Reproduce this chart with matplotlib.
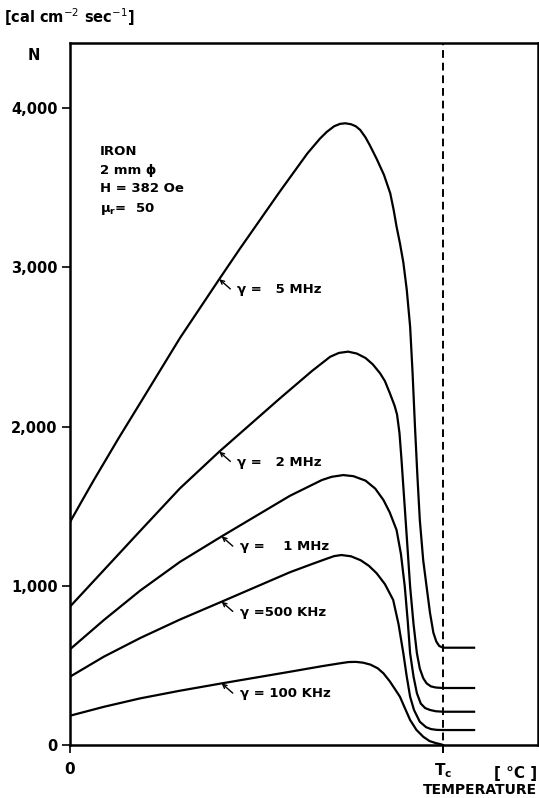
import numpy as np
import matplotlib.pyplot as plt

# temperature axis: 0 .. Tc (iron, ~770 C)
TC = 770

t_5mhz = [0, 25, 50, 100, 145, 227, 308, 351, 433, 490, 516, 530, 545, 557, 568, 580, 590, 599, 610, 619, 633,
          648, 661, 668, 674, 681, 688, 695, 702, 707, 712, 717, 722, 729, 736, 743, 750, 756, 762, 770, 834]
n_5mhz = [1400, 1535, 1668, 1925, 2148, 2556, 2925, 3118, 3475, 3715, 3808, 3850, 3885, 3900, 3904, 3898, 3885, 3862, 3815, 3765, 3680,
          3580, 3464, 3360, 3255, 3150, 3030, 2860, 2627, 2340, 2000, 1690, 1413, 1160, 994, 830, 705, 650, 622, 611, 611]

t_2mhz = [0, 145, 227, 308, 433, 500, 537, 555, 574, 592, 610, 625, 640, 650, 660, 670, 675, 680, 684, 688,
          695, 702, 709, 716, 722, 729, 736, 745, 755, 770, 834]
n_2mhz = [869, 1345, 1612, 1842, 2176, 2350, 2438, 2462, 2470, 2458, 2430, 2390, 2334, 2285, 2210, 2130, 2075, 1960, 1800, 1622,
          1310, 994, 760, 576, 480, 420, 387, 368, 361, 358, 358]

t_1mhz = [0, 70, 145, 227, 313, 454, 520, 540, 564, 585, 610, 630, 647, 660, 674, 683, 691, 697, 702, 709, 716,
          724, 733, 743, 755, 770, 834]
n_1mhz = [601, 785, 970, 1150, 1310, 1565, 1664, 1684, 1695, 1688, 1660, 1610, 1538, 1460, 1350, 1200, 994, 780, 576, 430, 325,
          260, 232, 220, 212, 209, 209]

t_500k = [0, 70, 145, 227, 313, 454, 500, 530, 545, 560, 580, 600, 617, 633, 650, 667, 678, 688, 695, 702, 710,
          722, 735, 745, 757, 770, 834]
n_500k = [429, 555, 672, 788, 900, 1085, 1137, 1170, 1186, 1193, 1185, 1160, 1125, 1078, 1010, 911, 760, 576, 430, 303, 220,
          146, 112, 100, 95, 94, 94]

t_100k = [0, 70, 145, 227, 313, 454, 520, 557, 575, 590, 605, 620, 635, 647, 660, 672, 681, 690, 702, 715, 729,
          742, 755, 765, 770]
n_100k = [184, 240, 293, 341, 387, 460, 495, 513, 521, 522, 517, 505, 482, 450, 400, 345, 303, 240, 157, 95, 52,
          25, 12, 5, 0]

labels = ['\u03b3 =   5 MHz', '\u03b3 =   2 MHz', '\u03b3 =    1 MHz', '\u03b3 =500 KHz', '\u03b3 = 100 KHz']
label_tip_t = [308, 308, 313, 313, 313]
label_tip_n = [2925, 1842, 1310, 900, 387]

fig = plt.figure(figsize=(5.39, 7.98), dpi=100)
ax = fig.add_axes([0.1299, 0.0664, 0.8683, 0.8797])

for t, n in [(t_5mhz, n_5mhz), (t_2mhz, n_2mhz), (t_1mhz, n_1mhz), (t_500k, n_500k), (t_100k, n_100k)]:
    ax.plot(t, n, color='black', lw=1.6, solid_joinstyle='round')

ax.axvline(TC, color='black', lw=1.4, ls=(0, (4, 2.5)), ymin=-0.012, clip_on=False)

for lab, tt, tn in zip(labels, label_tip_t, label_tip_n):
    ax.annotate('', xy=(tt, tn), xytext=(8, -7), textcoords='offset points',
                arrowprops=dict(arrowstyle='->', color='black', lw=1.0,
                                shrinkA=0, shrinkB=0, mutation_scale=7))
    ax.annotate(lab, xy=(tt, tn), xytext=(13, -7.5), textcoords='offset points',
                fontsize=9.5, fontweight='bold', va='center', ha='left')

ax.text(62, 3765, 'IRON\n2 mm \u03d5\nH = 382 Oe\n$\\mathbf{\\mu_r}$=  50', fontsize=9.5, fontweight='bold',
        va='top', ha='left', linespacing=1.55)

ax.set_xlim(0, 966)
ax.set_ylim(0, 4408)
ax.set_xticks([0, TC])
ax.set_xticklabels(['0', '$\\mathbf{T_c}$'], fontsize=11, fontweight='bold')
ax.set_yticks([0, 1000, 2000, 3000, 4000])
ax.set_yticklabels(['0', '1,000', '2,000', '3,000', '4,000'], fontsize=10.5, fontweight='bold')
ax.tick_params(axis='y', direction='out', length=6, width=1.2, pad=3)
ax.tick_params(axis='x', direction='out', length=6, width=1.2, pad=6)

for s in ax.spines.values():
    s.set_linewidth(1.8)

fig.text(0.008, 0.978, '[cal cm$^{-2}$ sec$^{-1}$]', fontsize=10.5, fontweight='bold', va='center', ha='left')
fig.text(0.063, 0.931, 'N', fontsize=10.5, fontweight='bold', va='center', ha='center')
fig.text(0.997, 0.031, '[ \u00b0C ]', fontsize=11, fontweight='bold', va='center', ha='right')
fig.text(0.997, 0.010, 'TEMPERATURE', fontsize=10, fontweight='bold', va='center', ha='right')

fig.savefig('out.png', dpi=100)
